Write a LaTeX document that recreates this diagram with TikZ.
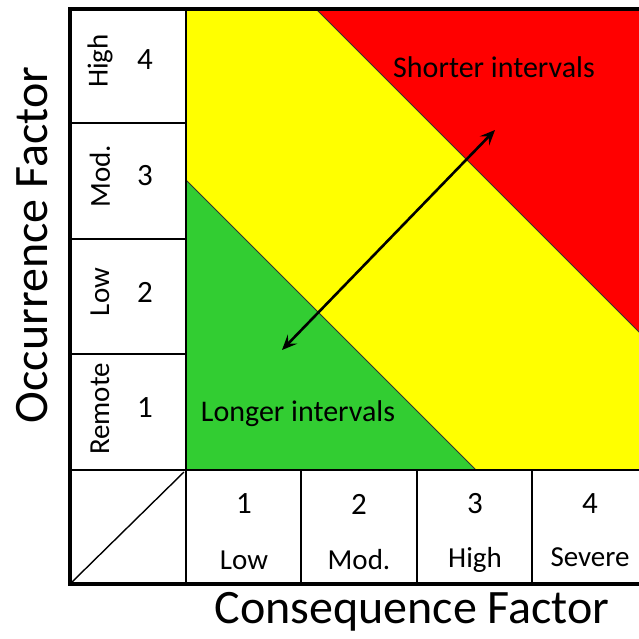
\documentclass[tikz,border=0pt]{standalone}
\usepackage{fontspec}
\setmainfont{Carlito}
\usetikzlibrary{arrows.meta}
\definecolor{riskyellow}{RGB}{255,255,0}
\definecolor{riskred}{RGB}{255,0,0}
\definecolor{riskgreen}{RGB}{50,205,50}
\tikzset{
  outer/.style={line width=3.2pt, line cap=rect},
  inner/.style={line width=1.4pt},
  edge/.style={line width=0.8pt, black!80},
  lbl/.style={font=\fontsize{29}{33}\selectfont, inner sep=0pt, anchor=center},
  num/.style={font=\fontsize{31}{35}\selectfont, inner sep=0pt, anchor=center},
  zone/.style={font=\fontsize{30}{34}\selectfont, inner sep=0pt, anchor=center},
  axis/.style={font=\fontsize{48}{54}\selectfont, inner sep=0pt, anchor=center},
  twoway/.style={{Stealth[length=15pt,width=13pt,inset=6pt]}-{Stealth[length=15pt,width=13pt,inset=6pt]}, line width=2.6pt}
}
\begin{document}
\begin{tikzpicture}[x=1pt,y=-1pt]
\useasboundingbox[fill=white] (0,0) rectangle (639,639);
\begin{scope}
\clip (0,0) rectangle (639,639);
% colour zones
\fill[riskyellow] (186,9) rectangle (660,470);
\fill[riskred] (316,9) -- (660,9) -- (660,353) -- cycle;
\fill[riskgreen] (186,180) -- (476,470) -- (186,470) -- cycle;
\draw[edge] (316,9) -- (660,353);
\draw[edge] (186,180) -- (476,470);
% inner grid lines
\draw[inner] (186,9) -- (186,584);
\draw[inner] (70,470) -- (660,470);
\draw[inner] (70,123) -- (186,123);
\draw[inner] (70,239) -- (186,239);
\draw[inner] (70,354) -- (186,354);
\draw[inner] (301,470) -- (301,584);
\draw[inner] (417,470) -- (417,584);
\draw[inner] (532,470) -- (532,584);
\draw[inner] (72,582) -- (184,472);
% outer border
\draw[outer] (660,9) -- (70,9) -- (70,584) -- (660,584);
\end{scope}
% row headers
\node[lbl, rotate=90] (rh4) at (100,61) {High};
\node[num] (rn4) at (145,60) {4};
\node[lbl, rotate=90] (rh3) at (100,176) {Mod.};
\node[num] (rn3) at (145,176) {3};
\node[lbl, rotate=90] (rh2) at (100,292) {Low};
\node[num] (rn2) at (145,292) {2};
\node[lbl, rotate=90] (rh1) at (100,409) {Remote};
\node[num] (rn1) at (145,408) {1};
% column headers
\node[num] (cn1) at (244,504) {1};
\node[lbl] (ch1) at (244,560) {Low};
\node[num] (cn2) at (359,504) {2};
\node[lbl] (ch2) at (359,560) {Mod.};
\node[num] (cn3) at (475,504) {3};
\node[lbl] (ch3) at (475,560) {High};
\node[num] (cn4) at (590,504) {4};
\node[lbl] (ch4) at (590,557) {Severe};
% zone labels
\node[zone] (short) at (494,67) {Shorter intervals};
\node[zone] (long) at (298,414) {Longer intervals};
% axis titles
\node[axis] (yaxis) at (32,245) [rotate=90] {Occurrence Factor};
\node[axis] (xaxis) at (412,612) {Consequence Factor};
% arrow
\coordinate (lowend) at (282,350);
\coordinate (highend) at (495,130);
\draw[twoway] (lowend) -- (highend);
\end{tikzpicture}
\end{document}
